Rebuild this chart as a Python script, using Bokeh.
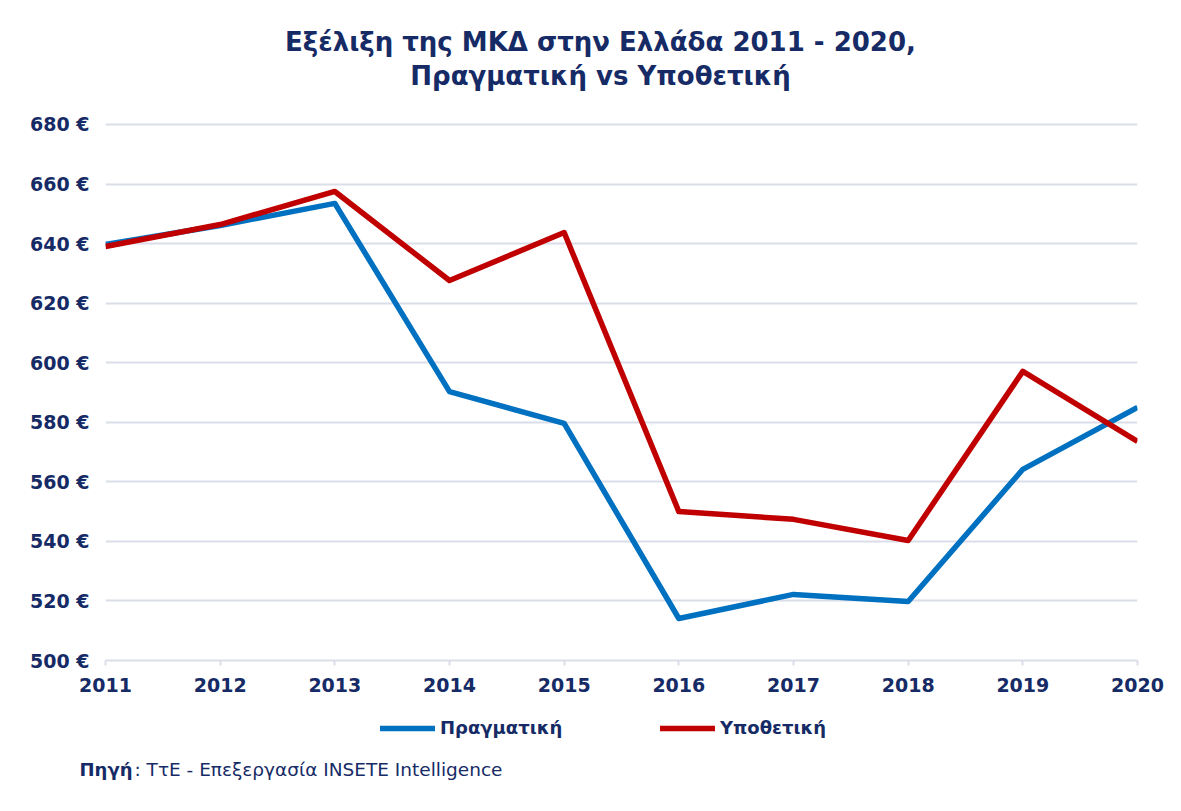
from bokeh.plotting import figure
from bokeh.layouts import column
from bokeh.models import Range1d, FixedTicker, Label, Legend, LegendItem, LinearAxis
from bokeh.embed import file_html
from bokeh.resources import INLINE

# ---- data ----
years = [2011, 2012, 2013, 2014, 2015, 2016, 2017, 2018, 2019, 2020]
actual = [639.7, 646.1, 653.5, 590.3, 579.6, 514.1, 522.2, 519.8, 564.2, 585.0]
hypothetical = [639.0, 646.4, 657.5, 627.6, 643.7, 550.0, 547.4, 540.3, 597.1, 573.6]
series_names = ["Πραγματική", "Υποθετική"]
y_ticks = [500, 520, 540, 560, 580, 600, 620, 640, 660, 680]
y_tick_labels = ["500 €", "520 €", "540 €", "560 €", "580 €", "600 €", "620 €", "640 €", "660 €", "680 €"]
title_lines = ["Εξέλιξη της ΜΚΔ στην Ελλάδα 2011 - 2020,", "Πραγματική vs Υποθετική"]
source_bold = "Πηγή"
source_rest = ": ΤτΕ - Επεξεργασία INSETE Intelligence"

NAVY = "#162B66"
BLUE = "#0070C0"
RED = "#C00000"
GRID = "#D9DEE8"
FONT = "DejaVu Sans"
LW = 5.5

W = 1173
HEAD_H = 104          # header strip (title)
FOOT_H = 99           # legend + source strip
ML, MR, MT, MB = 105, 36, 17, 44
FW, FH = W - ML - MR, 539


def blank(h):
    f = figure(width=W, height=h, output_backend="svg", toolbar_location=None,
               x_range=Range1d(ML, W - MR), y_range=Range1d(h, 0),
               min_border=0, min_border_left=0, min_border_right=0,
               min_border_top=0, min_border_bottom=0,
               outline_line_color=None, background_fill_color="white",
               border_fill_color="white")
    f.axis.visible = False
    f.grid.visible = False
    return f


# ---- header with title ----
head = blank(HEAD_H)
for i, t in enumerate(title_lines):
    head.add_layout(Label(x=600, y=41 + i * 34, text=t, text_align="center",
                          text_baseline="middle", text_font=FONT, text_font_style="bold",
                          text_font_size="26px", text_color=NAVY))

# ---- main chart ----
p = figure(frame_width=FW, frame_height=FH, output_backend="svg", toolbar_location=None,
           x_range=Range1d(years[0], years[-1]), y_range=Range1d(y_ticks[0], y_ticks[-1] + 1),
           min_border_left=ML, min_border_right=MR, min_border_top=MT, min_border_bottom=MB,
           background_fill_color="white", border_fill_color="white", outline_line_color=None)

p.xaxis.ticker = FixedTicker(ticks=years)
p.xaxis.axis_line_color = GRID
p.xaxis.axis_line_width = 2
p.xaxis.major_tick_line_color = GRID
p.xaxis.major_tick_line_width = 2
p.xaxis.major_tick_out = 5
p.xaxis.major_tick_in = 0
p.xaxis.minor_tick_line_color = None
p.xaxis.major_label_standoff = 12
p.xaxis.major_label_text_font = FONT
p.xaxis.major_label_text_font_style = "bold"
p.xaxis.major_label_text_font_size = "19px"
p.xaxis.major_label_text_color = NAVY

p.yaxis.ticker = FixedTicker(ticks=y_ticks)
p.yaxis.major_label_overrides = dict(zip(y_ticks, y_tick_labels))
p.yaxis.axis_line_color = None
p.yaxis.major_tick_line_color = None
p.yaxis.minor_tick_line_color = None
p.yaxis.major_label_standoff = 10
p.yaxis.major_label_text_font = FONT
p.yaxis.major_label_text_font_style = "bold"
p.yaxis.major_label_text_font_size = "19px"
p.yaxis.major_label_text_color = NAVY

p.xgrid.grid_line_color = None
p.ygrid.ticker = FixedTicker(ticks=y_ticks[1:])
p.ygrid.grid_line_color = GRID
p.ygrid.grid_line_width = 2

p.line(years, actual, line_width=LW, line_color=BLUE, line_join="round")
p.line(years, hypothetical, line_width=LW, line_color=RED, line_join="round")

# ---- footer with legend + source ----
foot = blank(FOOT_H)
k1 = foot.line(years, actual, line_width=LW, line_color=BLUE, line_cap="round", visible=False)
k2 = foot.line(years, hypothetical, line_width=LW, line_color=RED, line_cap="round", visible=False)
legend = Legend(items=[LegendItem(label=series_names[0], renderers=[k1]),
                       LegendItem(label=series_names[1], renderers=[k2])],
                orientation="horizontal", location="top",
                glyph_width=55, glyph_height=20, label_height=20, label_width=142,
                label_standoff=5, spacing=78, padding=0, margin=13,
                border_line_color=None, background_fill_alpha=0,
                inactive_fill_alpha=0,
                label_text_font=FONT, label_text_font_style="bold",
                label_text_font_size="18px", label_text_color=NAVY)
foot.add_layout(legend, "center")

src_axis = LinearAxis(ticker=FixedTicker(ticks=[65]), major_label_overrides={65: source_bold},
                      axis_line_color=None, major_tick_line_color=None,
                      minor_tick_line_color=None, major_tick_out=0, major_tick_in=0,
                      major_label_standoff=-27, major_label_text_font=FONT,
                      major_label_text_font_style="bold", major_label_text_font_size="18px",
                      major_label_text_color=NAVY)
foot.add_layout(src_axis, "left")
foot.add_layout(Label(x=134, y=65, text=source_rest, text_align="left",
                      text_baseline="middle", text_font=FONT,
                      text_font_size="18.5px", text_color=NAVY))

layout = column(head, p, foot, spacing=0)
open("out.html", "w").write(file_html(layout, INLINE))
